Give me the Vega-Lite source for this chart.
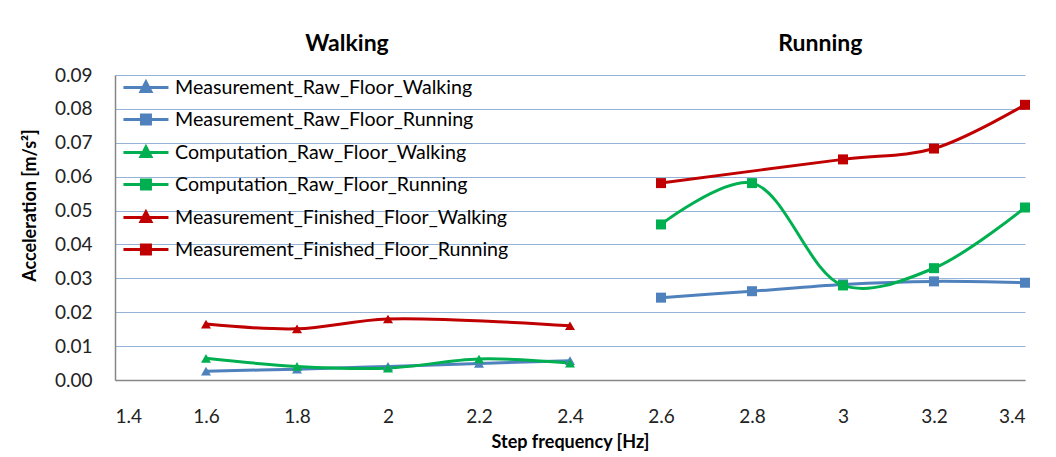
{
  "$schema": "https://vega.github.io/schema/vega-lite/v6.json",
  "width": 910,
  "height": 305,
  "autosize": {"type": "none"},
  "padding": {"left": 115, "top": 75, "right": 31, "bottom": 77},
  "background": "white",
  "config": {
    "view": {"stroke": null},
    "font": "Lato"
  },
  "datasets": {
    "series": [
      {"series": "Measurement_Raw_Floor_Walking", "f": 1.6, "a": 0.0026},
      {"series": "Measurement_Raw_Floor_Walking", "f": 1.8, "a": 0.0032},
      {"series": "Measurement_Raw_Floor_Walking", "f": 2.0, "a": 0.0040},
      {"series": "Measurement_Raw_Floor_Walking", "f": 2.2, "a": 0.0049},
      {"series": "Measurement_Raw_Floor_Walking", "f": 2.4, "a": 0.0057},
      {"series": "Measurement_Raw_Floor_Running", "f": 2.6, "a": 0.0243},
      {"series": "Measurement_Raw_Floor_Running", "f": 2.8, "a": 0.0262},
      {"series": "Measurement_Raw_Floor_Running", "f": 3.0, "a": 0.0282},
      {"series": "Measurement_Raw_Floor_Running", "f": 3.2, "a": 0.0291},
      {"series": "Measurement_Raw_Floor_Running", "f": 3.4, "a": 0.0287},
      {"series": "Computation_Raw_Floor_Walking", "f": 1.6, "a": 0.0064},
      {"series": "Computation_Raw_Floor_Walking", "f": 1.8, "a": 0.0040},
      {"series": "Computation_Raw_Floor_Walking", "f": 2.0, "a": 0.0035},
      {"series": "Computation_Raw_Floor_Walking", "f": 2.2, "a": 0.0062},
      {"series": "Computation_Raw_Floor_Walking", "f": 2.4, "a": 0.0050},
      {"series": "Computation_Raw_Floor_Running", "f": 2.6, "a": 0.0459},
      {"series": "Computation_Raw_Floor_Running", "f": 2.8, "a": 0.0581},
      {"series": "Computation_Raw_Floor_Running", "f": 3.0, "a": 0.0279},
      {"series": "Computation_Raw_Floor_Running", "f": 3.2, "a": 0.0330},
      {"series": "Computation_Raw_Floor_Running", "f": 3.4, "a": 0.0509},
      {"series": "Measurement_Finished_Floor_Walking", "f": 1.6, "a": 0.0165},
      {"series": "Measurement_Finished_Floor_Walking", "f": 1.8, "a": 0.0151},
      {"series": "Measurement_Finished_Floor_Walking", "f": 2.0, "a": 0.0180},
      {"series": "Measurement_Finished_Floor_Walking", "f": 2.4, "a": 0.0160},
      {"series": "Measurement_Finished_Floor_Running", "f": 2.6, "a": 0.0581},
      {"series": "Measurement_Finished_Floor_Running", "f": 3.0, "a": 0.0651},
      {"series": "Measurement_Finished_Floor_Running", "f": 3.2, "a": 0.0683},
      {"series": "Measurement_Finished_Floor_Running", "f": 3.4, "a": 0.0812}
    ],
    "groups": [
      {"label": "Walking", "f": 1.91, "a": 0.0991},
      {"label": "Running", "f": 2.95, "a": 0.0991}
    ]
  },
  "encoding": {
    "x": {
      "field": "f", "type": "quantitative",
      "scale": {"domain": [1.4, 3.4], "nice": false, "zero": false},
      "axis": {
        "values": [1.4, 1.6, 1.8, 2.0, 2.2, 2.4, 2.6, 2.8, 3.0, 3.2, 3.4],
        "format": "~g",
        "title": "Step frequency [Hz]",
        "grid": false, "ticks": false, "tickSize": 0, "labelOverlap": false,
        "domainColor": "#868686", "domainWidth": 1.5,
        "labelFont": "Lato", "labelFontSize": 19, "labelColor": "#222222", "labelPadding": 27,
        "titleFont": "Lato", "titleFontSize": 18, "titleFontWeight": "bold", "titleColor": "black", "titlePadding": 7
      }
    },
    "y": {
      "field": "a", "type": "quantitative",
      "scale": {"domain": [0, 0.09], "nice": false},
      "axis": {
        "values": [0, 0.01, 0.02, 0.03, 0.04, 0.05, 0.06, 0.07, 0.08, 0.09],
        "format": ".2f",
        "title": "Acceleration [m/s²]",
        "grid": true, "gridColor": "#95B3D7", "gridWidth": 1, "gridOpacity": 1,
        "ticks": false, "tickSize": 0, "labelOverlap": false,
        "domainColor": "#868686", "domainWidth": 1.5,
        "labelFont": "Lato", "labelFontSize": 19, "labelColor": "#222222", "labelPadding": 23,
        "titleFont": "Lato", "titleFontSize": 18, "titleFontWeight": "bold", "titleColor": "black", "titlePadding": 15, "titleY": 130
      }
    }
  },
  "layer": [
    {
      "data": {"name": "series"},
      "mark": {"type": "line", "interpolate": "catmull-rom", "strokeWidth": 3},
      "encoding": {
        "color": {
          "field": "series", "type": "nominal",
          "scale": {
            "domain": ["Measurement_Raw_Floor_Walking", "Measurement_Raw_Floor_Running", "Computation_Raw_Floor_Walking", "Computation_Raw_Floor_Running", "Measurement_Finished_Floor_Walking", "Measurement_Finished_Floor_Running"],
            "range": ["#4F81BD", "#4F81BD", "#00B050", "#00B050", "#C00000", "#C00000"]
          },
          "legend": {
            "orient": "top-left", "offset": 2, "padding": 0, "title": null,
            "labelFont": "Lato", "labelFontSize": 19.6, "labelColor": "black", "labelLimit": 0, "labelOffset": 37,
            "symbolSize": 324, "symbolStrokeWidth": 3, "rowPadding": 11,
            "encode": {
              "symbols": {
                "update": {
                  "shape": {"signal": "indexof(datum.value, 'Walking') >= 0 ? 'M-0.45,0H4.55M1.5,0.45L2.6,0.45L2.05,-0.6Z' : 'M-0.45,0H4.55M1.55,-0.5H2.55V0.5H1.55Z'"},
                  "fill": {"scale": "color", "field": "value"},
                  "stroke": {"scale": "color", "field": "value"},
                  "strokeWidth": {"value": 3},
                  "opacity": {"value": 1},
                  "fillOpacity": {"value": 1},
                  "strokeOpacity": {"value": 1}
                }
              }
            }
          }
        }
      }
    },
    {
      "data": {"name": "series"},
      "transform": [{"filter": "indexof(datum.series, 'Walking') >= 0"}],
      "mark": {"type": "point", "shape": "triangle-up", "filled": true, "size": 100, "opacity": 1},
      "encoding": {"color": {"field": "series", "type": "nominal"}}
    },
    {
      "data": {"name": "series"},
      "transform": [{"filter": "indexof(datum.series, 'Running') >= 0"}],
      "mark": {"type": "point", "shape": "square", "filled": true, "size": 100, "opacity": 1},
      "encoding": {"color": {"field": "series", "type": "nominal"}}
    },
    {
      "data": {"name": "groups"},
      "mark": {"type": "text", "font": "Lato", "fontSize": 23, "fontWeight": "bold", "color": "black", "align": "center", "baseline": "middle"},
      "encoding": {
        "text": {"field": "label"}
      }
    }
  ]
}
